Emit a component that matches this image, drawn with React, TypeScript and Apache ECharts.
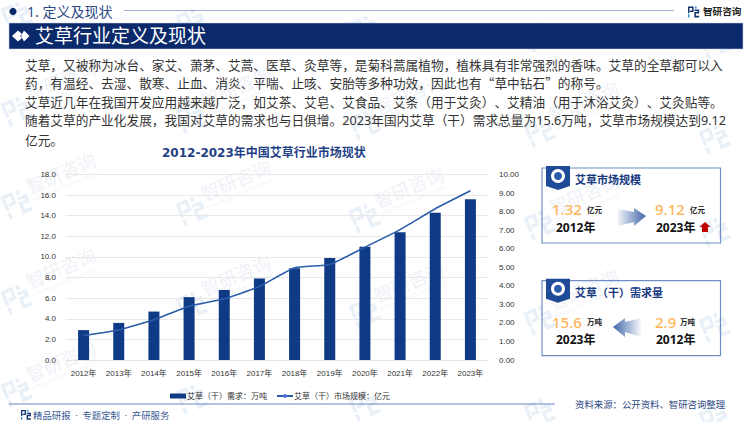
import React, { useEffect, useRef } from "react";
import * as echarts from "echarts";

const years = ["2012年","2013年","2014年","2015年","2016年","2017年","2018年","2019年","2020年","2021年","2022年","2023年"];
const demand = [2.9,3.6,4.7,6.1,6.8,7.9,8.9,9.9,11.0,12.4,14.3,15.6];
const market = [1.32,1.62,2.17,2.9,3.3,3.96,4.97,5.15,6.08,7.03,8.15,9.12];
const bodyLines = [
  "艾草，又被称为冰台、家艾、萧茅、艾蒿、医草、灸草等，是菊科蒿属植物，植株具有非常强烈的香味。艾草的全草都可以入",
  "药，有温经、去湿、散寒、止血、消炎、平喘、止咳、安胎等多种功效，因此也有“草中钻石”的称号。",
  "艾草近几年在我国开发应用越来越广泛，如艾茶、艾皂、艾食品、艾条（用于艾灸）、艾精油（用于沐浴艾灸）、艾灸贴等。",
  "随着艾草的产业化发展，我国对艾草的需求也与日俱增。2023年国内艾草（干）需求总量为15.6万吨，艾草市场规模达到9.12",
  "亿元。",
];
const wmColumns = [17, 192, 365, 540, 715];
const wmRows = [15, 110, 203, 298, 391];

const CJK = "Noto Sans, Noto Sans CJK SC, sans-serif";
const CJK_ONLY = "Noto Sans CJK SC, sans-serif";
const WIDE = "DejaVu Sans, Noto Sans CJK SC, sans-serif";
const NAVY = "#0b2a6b";
const WM_ANGLE = (23 * Math.PI) / 180;

const LOGO_MAIN = "M0 0H9V9H3.2V6.6H6.6V2.4H2.4V11H0ZM10.5 5H18V11.2H12.8V15H18V17.6H10.2V8.8H15.4V7.4H10.5Z";
const LOGO_ACCENT = "M0 12.6H2.4V17.6H0ZM11.2 0H13.8V3.4H11.2Z";
const RIBBON = "M0 0H24V20L12 24L0 20Z";
echarts.graphic.registerShape("logoMain", echarts.graphic.extendPath(LOGO_MAIN, {}) as any);
echarts.graphic.registerShape("logoAccent", echarts.graphic.extendPath(LOGO_ACCENT, {}) as any);
echarts.graphic.registerShape("ribbon", echarts.graphic.extendPath(RIBBON, {}) as any);

function txt(text: string, x: number, y: number, size: number, fill: string, weight: any = "normal", family = CJK) {
  return {
    type: "text", x, y, z: 3, silent: true,
    style: { text, fill, font: `${weight} ${size}px ${family}`, textAlign: "left", textVerticalAlign: "middle" },
  };
}
function logo(x: number, y: number, s: number, main: string, accent: string, z = 3) {
  return [
    { type: "logoMain", x, y, scaleX: s, scaleY: s, z, silent: true, style: { fill: main } },
    { type: "logoAccent", x, y, scaleX: s, scaleY: s, z, silent: true, style: { fill: accent } },
  ];
}
function fitsPage(x: number, y: number) {
  // the watermark words run from 15 to 90 along the tilted baseline
  const endX = x + 90 * Math.cos(WM_ANGLE) + 16 * Math.sin(WM_ANGLE);
  const topY = y - 90 * Math.sin(WM_ANGLE) - 20 * Math.cos(WM_ANGLE);
  const botY = y + 15 * Math.cos(WM_ANGLE) + 12;
  return endX < 748 && topY > 2 && botY < 420;
}
function watermark(x: number, y: number) {
  const children: any[] = [
    { type: "logoMain", x: -13, y: -12, scaleX: 1.4, scaleY: 1.4, style: { fill: "#e9f0f7" } },
    { type: "logoAccent", x: -13, y: -12, scaleX: 1.4, scaleY: 1.4, style: { fill: "#e9f0f7" } },
  ];
  if (fitsPage(x, y)) {
    children.push(
      { type: "text", x: 15, y: -10.5, style: { text: "智研咨询", fill: "#eff2f7", font: `normal 18.5px ${CJK}`, textVerticalAlign: "middle" } },
      { type: "text", x: 15, y: 3.5, style: { text: "INTELLIGENCE RESEARCH GROUP", fill: "#f2f4f8", font: `normal 4.5px Noto Sans`, textVerticalAlign: "middle" } },
    );
  }
  return { type: "group", x, y, rotation: WM_ANGLE, z: 0, silent: true, children };
}
function card(y: number, title: string, lv: string, lu: string, ly: string, rv: string, ru: string, ry: string, luX: number, rvX: number, ruX: number) {
  return [
    { type: "rect", z: 2, silent: true, shape: { x: 542, y, width: 178.5, height: 75 }, style: { fill: "rgba(255,255,255,0)", stroke: "#6f8fc5", lineWidth: 1.2 } },
    { type: "ribbon", x: 546, y: y - 2, z: 2, silent: true, style: { fill: "#1f4a97" } },
    { type: "circle", z: 3, silent: true, shape: { cx: 558, cy: y + 8, r: 7 }, style: { fill: "#ffffff" } },
    { type: "circle", z: 3, silent: true, shape: { cx: 558, cy: y + 8, r: 4 }, style: { fill: "#2a5caa" } },
    txt(title, 575, y + 11, 11, "#17397f", "bold", CJK_ONLY),
    txt(lv, 552, y + 41, 15, "#ffb45a", "500"),
    txt(lu, luX, y + 41.5, 7.5, "#222222", "bold"),
    txt(ly, 556, y + 59, 12, "#111111", "bold"),
    txt(rv, rvX, y + 41, 15, "#ffb45a", "500"),
    txt(ru, ruX, y + 41.5, 7.5, "#222222", "bold"),
    txt(ry, 656, y + 59, 12, "#111111", "bold"),
  ];
}

export default function App() {
  const ref = useRef<HTMLDivElement>(null);
  useEffect(() => {
    document.body.style.margin = "0";
    const chart = echarts.init(ref.current!, null, { renderer: "svg" });
    const rightGrad = new echarts.graphic.LinearGradient(0, 0, 1, 0, [
      { offset: 0, color: "rgba(63,102,168,0.08)" },
      { offset: 1, color: "#3f66a8" },
    ]);
    const leftGrad = new echarts.graphic.LinearGradient(0, 0, 1, 0, [
      { offset: 0, color: "#3f66a8" },
      { offset: 1, color: "rgba(63,102,168,0.04)" },
    ]);
    const wm: any[] = [];
    wmColumns.forEach((cx, i) => wmRows.forEach((ry) => wm.push(watermark(cx, ry + i * 7))));
    const elements: any[] = [
      ...wm,
      { type: "circle", z: 3, silent: true, shape: { cx: 13, cy: 11.5, r: 3.6 }, style: { fill: NAVY } },
      txt("1. 定义及现状", 27, 11.5, 14, "#2b4a86"),
      { type: "line", z: 3, silent: true, shape: { x1: 124, y1: 10.5, x2: 674, y2: 10.5 }, style: { stroke: "#9fb0d5", lineWidth: 1 } },
      ...logo(688, 6.5, 0.62, "#12346f", "#2a8fd8"),
      txt("智研咨询", 703, 11, 9.6, "#222222", "bold"),
      { type: "rect", z: 2, silent: true, shape: { x: 9, y: 23, width: 734, height: 26 }, style: { fill: NAVY, stroke: "#c9d3e6", lineWidth: 0.5 } },
      { type: "polygon", z: 3, silent: true, shape: { points: [[12, 36], [18, 30.5], [22, 34], [20, 36], [22, 38], [18, 41.5]] }, style: { fill: "#ffffff" } },
      { type: "polygon", z: 3, silent: true, shape: { points: [[21, 36], [24, 30.5], [29.5, 36], [24, 41.5]] }, style: { fill: "#ffffff" } },
      txt("艾草行业定义及现状", 35, 36, 19, "#ffffff"),
      ...bodyLines.map((l, i) => txt(l, 25, 64 + i * 18.8, 12.7, "#333333", "normal", i === 3 ? CJK : CJK_ONLY)),
      txt("2012-2023年中国艾草行业市场现状", 162, 153, 12, "#1f3f85", "bold", WIDE),
      ...card(168, "艾草市场规模", "1.32", "亿元", "2012年", "9.12", "亿元", "2023年", 587, 655, 690),
      { type: "polygon", z: 3, silent: true, shape: { points: [[618, 209], [634, 212], [634, 208], [646, 216], [634, 226], [634, 222], [618, 226]] }, style: { fill: rightGrad } },
      { type: "polygon", z: 3, silent: true, shape: { points: [[705, 222], [710.5, 227], [708, 227], [708, 232], [702, 232], [702, 227], [699.5, 227]] }, style: { fill: "#c00000" } },
      ...card(280.7, "艾草（干）需求量", "15.6", "万吨", "2023年", "2.9", "万吨", "2012年", 587, 655, 680),
      { type: "polygon", z: 3, silent: true, shape: { points: [[613, 327], [625, 318], [625, 322], [641, 318], [641, 337], [625, 332], [625, 337]] }, style: { fill: leftGrad } },
      { type: "line", z: 3, silent: true, shape: { x1: 9, y1: 404, x2: 555, y2: 404 }, style: { stroke: "#6c86bd", lineWidth: 1 } },
      ...logo(21, 410, 0.55, "#12346f", "#2a8fd8"),
      txt("精品研报\u2002·\u2002专题定制\u2002·\u2002产研服务", 33, 415, 9.4, "#3a5a94"),
      txt("资料来源：公开资料、智研咨询整理", 575, 403.5, 9.4, "#2c4a84", "normal", CJK_ONLY),
    ];
    const axisLabel = { color: "#333333", fontSize: 8, fontFamily: "Liberation Sans, Noto Sans CJK SC, sans-serif" };
    chart.setOption({
      animation: false,
      grid: { left: 66, right: 262, top: 174.5, bottom: 62 },
      legend: {
        left: 165, top: 387, itemWidth: 16, itemHeight: 5, itemGap: 9, itemStyle: { borderWidth: 0 },
        textStyle: { fontSize: 8, color: "#333333", fontFamily: CJK_ONLY, padding: [0, 0, 0, -4] },
        data: [
          { name: "艾草（干）需求：万吨", icon: "rect" },
          { name: "艾草（干）市场规模：亿元" },
        ],
      },
      xAxis: {
        type: "category", data: years,
        axisTick: { show: false },
        axisLine: { lineStyle: { color: "#e3e3e3" } },
        axisLabel: { ...axisLabel, margin: 9, interval: 0 },
      },
      yAxis: [
        {
          type: "value", min: 0, max: 18, interval: 2,
          axisLine: { show: false }, axisTick: { show: false },
          splitLine: { lineStyle: { color: "#e8e8e8", width: 1 } },
          axisLabel: { ...axisLabel, margin: 10, formatter: (v: number) => v.toFixed(1) },
        },
        {
          type: "value", min: 0, max: 10, interval: 1,
          axisLine: { show: false }, axisTick: { show: false }, splitLine: { show: false },
          axisLabel: { ...axisLabel, margin: 11, formatter: (v: number) => v.toFixed(2) },
        },
      ],
      series: [
        { name: "艾草（干）需求：万吨", type: "bar", data: demand, barWidth: 11, itemStyle: { color: "#0e3a86" } },
        { name: "艾草（干）市场规模：亿元", type: "line", yAxisIndex: 1, data: market, smooth: 0.15, symbol: "none", lineStyle: { color: "#2a5caa", width: 1.6 } },
      ],
      graphic: { elements },
    });
    return () => chart.dispose();
  }, []);
  return <div ref={ref} style={{ position: "absolute", left: 0, top: 0, width: 750, height: 422, background: "#fff", textSpacingTrim: "space-all" } as any} />;
}
